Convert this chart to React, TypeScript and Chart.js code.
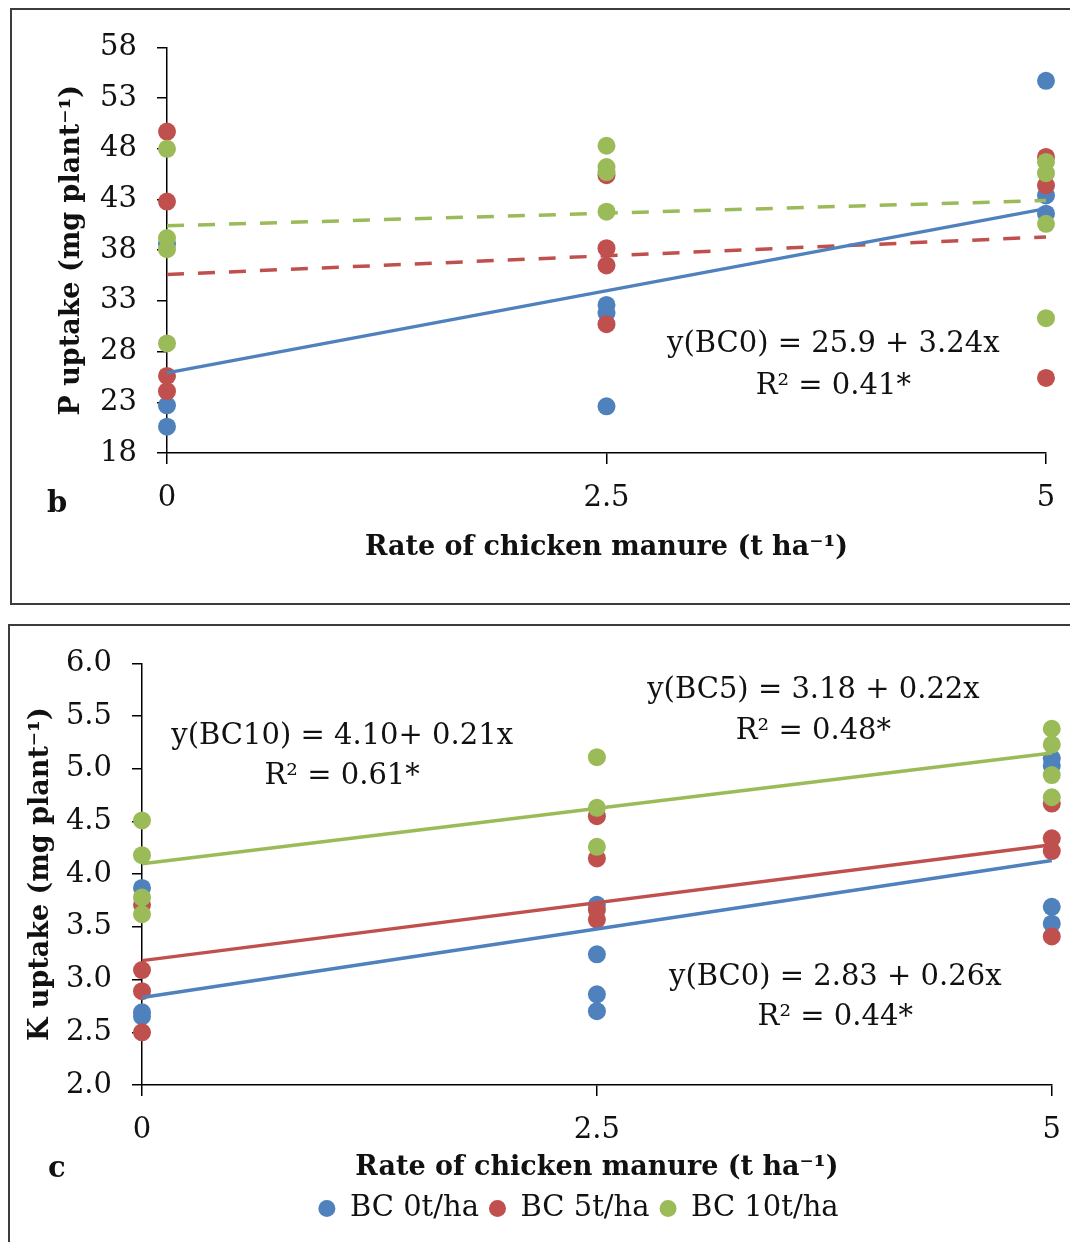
import { useEffect, useRef } from 'react';
import { Chart, registerables } from 'chart.js';

Chart.register(...registerables);

const FONT = "'DejaVu Serif', serif";
const TEXT = '#111111';
const BLUE = '#4F81BD';
const RED = '#C0504D';
const GREEN = '#9BBB59';

// ---------- shared categories ----------
const seriesNames = ['BC 0t/ha', 'BC 5t/ha', 'BC 10t/ha'];
const manureRates = [0, 2.5, 5];

// ---------- panel b: P uptake (values per rate 0, 2.5, 5) ----------
const pUptakeBC0 = [
  [20.6, 22.7, 38.6],
  [22.6, 31.8, 32.6],
  [41.6, 43.4, 54.7],
];
const pUptakeBC5 = [
  [24.1, 25.6, 42.8, 49.7],
  [30.7, 36.5, 38.2, 45.4],
  [25.4, 44.4, 47.2],
];
const pUptakeBC10 = [
  [28.8, 38.1, 39.2, 48.0],
  [41.8, 45.7, 46.2, 48.3],
  [31.3, 40.6, 45.6, 46.7],
];
// trend line values at rate 0 and rate 5
const pTrendBC0 = [25.9, 42.1];
const pTrendBC5 = [35.6, 39.3];
const pTrendBC10 = [40.4, 42.9];
const pTicks = { min: 18, max: 58, step: 5 };
const pNotes = [
  { text: 'y(BC0) = 25.9 + 3.24x', x: 3.79, y: 28.74 },
  { text: 'R² = 0.41*', x: 3.79, y: 24.6 },
];

// ---------- panel c: K uptake ----------
const kUptakeBC0 = [
  [2.65, 2.69, 3.87],
  [2.7, 2.86, 3.24, 3.71],
  [3.53, 3.69, 5.03, 5.1],
];
const kUptakeBC5 = [
  [2.5, 2.89, 3.09, 3.71],
  [3.57, 3.66, 4.15, 4.55],
  [3.41, 4.22, 4.34, 4.67],
];
const kUptakeBC10 = [
  [3.62, 3.78, 4.18, 4.51],
  [4.26, 4.63, 5.11],
  [4.73, 4.94, 5.23, 5.38],
];
const kTrendBC0 = [2.83, 4.13];
const kTrendBC5 = [3.18, 4.28];
const kTrendBC10 = [4.1, 5.15];
const kTicks = { min: 2, max: 6, step: 0.5 };
const kNotes = [
  { text: 'y(BC10) = 4.10+ 0.21x', x: 1.1, y: 5.31 },
  { text: 'R² = 0.61*', x: 1.1, y: 4.93 },
  { text: 'y(BC5) = 3.18 + 0.22x', x: 3.69, y: 5.74 },
  { text: 'R² = 0.48*', x: 3.69, y: 5.35 },
  { text: 'y(BC0) = 2.83 + 0.26x', x: 3.81, y: 3.02 },
  { text: 'R² = 0.44*', x: 3.81, y: 2.64 },
];

const xTitle = 'Rate of chicken manure (t ha⁻¹)';

type Note = { text: string; x: number; y: number };

function buildPoints(rows: number[][]) {
  const pts: { x: number; y: number }[] = [];
  rows.forEach((vals, i) => vals.forEach((v) => pts.push({ x: manureRates[i], y: v })));
  return pts;
}
function buildTrend(ends: number[]) {
  return [
    { x: manureRates[0], y: ends[0] },
    { x: manureRates[manureRates.length - 1], y: ends[1] },
  ];
}

type PanelProps = {
  width: number;
  height: number;
  series: number[][][];
  trends: number[][];
  dashed: boolean;
  ticks: { min: number; max: number; step: number };
  decimals: number;
  yTitle: string;
  notes: Note[];
  letter: string;
  letterPos: { x: number; y: number };
  padding: { left: number; right: number; top: number; bottom: number };
  yAxisWidth: number;
  yTitlePad: number;
  xAxisHeight: number;
  legend: boolean;
  legendShift: number;
};

function Panel(props: PanelProps) {
  const ref = useRef<HTMLCanvasElement | null>(null);
  useEffect(() => {
    if (!ref.current) return;
    const colors = [BLUE, RED, GREEN];
    const pointSets = props.series.map((rows, i) => ({
      label: seriesNames[i],
      data: buildPoints(rows),
      backgroundColor: colors[i],
      borderColor: colors[i],
      pointRadius: 9,
      pointBorderWidth: 0,
      pointStyle: 'circle',
      showLine: false,
      order: 3 - i,
      clip: false,
    }));
    const trendSets = props.trends.map((ends, i) => ({
      label: seriesNames[i] + ' trend',
      data: buildTrend(ends),
      borderColor: colors[i],
      backgroundColor: colors[i],
      borderWidth: 3.5,
      borderDash: props.dashed && i > 0 ? [17, 14] : [],
      pointRadius: 0,
      showLine: true,
      order: 0,
      clip: false,
    }));
    const notesPlugin = {
      id: 'notes',
      beforeDraw(chart: any) {
        // centre the legend row under the plot like the original figure
        const lg = chart.legend;
        if (lg && props.legend && !lg._shifted) {
          lg.left += props.legendShift;
          lg.right += props.legendShift;
          lg._shifted = true;
        }
      },
      afterDatasetsDraw(chart: any) {
        const { ctx } = chart;
        const xs = chart.scales.x;
        const ys = chart.scales.y;
        ctx.save();
        ctx.fillStyle = TEXT;
        ctx.font = `29px ${FONT}`;
        ctx.textAlign = 'center';
        ctx.textBaseline = 'middle';
        props.notes.forEach((n) => ctx.fillText(n.text, xs.getPixelForValue(n.x), ys.getPixelForValue(n.y)));
        ctx.font = `bold 29px ${FONT}`;
        ctx.textAlign = 'left';
        ctx.textBaseline = 'alphabetic';
        ctx.fillText(props.letter, props.letterPos.x, props.letterPos.y);
        ctx.restore();
      },
    };
    const gridOpts = (len: number) => ({
      drawOnChartArea: false,
      drawTicks: true,
      tickLength: len,
      color: '#000',
      lineWidth: 1.5,
    });
    const chart = new Chart(ref.current, {
      type: 'scatter',
      data: { datasets: [...pointSets, ...trendSets] as any },
      options: {
        animation: false,
        responsive: false,
        maintainAspectRatio: false,
        events: [],
        layout: { padding: props.padding },
        plugins: {
          legend: props.legend
            ? {
                display: true,
                position: 'bottom',
                labels: {
                  usePointStyle: true,
                  pointStyle: 'circle',
                  boxHeight: 12,
                  pointStyleWidth: 17,
                  padding: 10,
                  color: TEXT,
                  font: { family: FONT, size: 29 },
                  filter: (item: any) => item.datasetIndex < 3,
                  sort: (a: any, b: any) => a.datasetIndex - b.datasetIndex,
                },
              }
            : { display: false },
          tooltip: { enabled: false },
        },
        scales: {
          x: {
            type: 'linear',
            min: manureRates[0],
            max: manureRates[manureRates.length - 1],
            ticks: {
              stepSize: 2.5,
              padding: 17,
              color: TEXT,
              font: { family: FONT, size: 29 },
              callback: (v: any) => String(v),
            },
            grid: gridOpts(11),
            border: { display: true, color: '#000', width: 1.5 },
            title: {
              display: true,
              text: xTitle,
              color: TEXT,
              font: { family: FONT, size: 27, weight: 'bold' },
              padding: { top: 0, bottom: 0 },
            },
            afterFit: (s: any) => {
              s.height = props.xAxisHeight;
            },
          },
          y: {
            type: 'linear',
            min: props.ticks.min,
            max: props.ticks.max,
            ticks: {
              stepSize: props.ticks.step,
              padding: 20,
              color: TEXT,
              font: { family: FONT, size: 29 },
              callback: (v: any) => Number(v).toFixed(props.decimals),
            },
            grid: gridOpts(10),
            border: { display: true, color: '#000', width: 1.5 },
            title: {
              display: true,
              text: props.yTitle,
              color: TEXT,
              font: { family: FONT, size: 27, weight: 'bold' },
              padding: { top: props.yTitlePad, bottom: 0 },
            },
            afterFit: (s: any) => {
              s.width = props.yAxisWidth;
            },
          },
        },
      } as any,
      plugins: [notesPlugin],
    });
    return () => chart.destroy();
  }, []);
  return (
    <canvas
      ref={ref}
      width={props.width}
      height={props.height}
      style={{ display: 'block', width: props.width, height: props.height }}
    />
  );
}

export default function App() {
  return (
    <div style={{ position: 'relative', width: 1070, height: 1234, overflow: 'hidden', background: '#fff' }}>
      <div
        style={{
          position: 'absolute',
          left: 2,
          top: 0,
          width: 1100,
          height: 593,
          border: '2px solid #3c3c3c',
        }}
      >
        <Panel
          width={1066}
          height={593}
          series={[pUptakeBC0, pUptakeBC5, pUptakeBC10]}
          trends={[pTrendBC0, pTrendBC5, pTrendBC10]}
          dashed={true}
          ticks={pTicks}
          decimals={0}
          yTitle="P uptake (mg plant⁻¹)"
          notes={pNotes}
          letter="b"
          letterPos={{ x: 35, y: 502 }}
          padding={{ left: 0, right: 32, top: 37, bottom: 39 }}
          yAxisWidth={155}
          yTitlePad={44}
          xAxisHeight={111}
          legend={false}
          legendShift={0}
        />
      </div>
      <div
        style={{
          position: 'absolute',
          left: 0,
          top: 616,
          width: 1100,
          height: 700,
          border: '2px solid #3c3c3c',
        }}
      >
        <Panel
          width={1068}
          height={616}
          series={[kUptakeBC0, kUptakeBC5, kUptakeBC10]}
          trends={[kTrendBC0, kTrendBC5, kTrendBC10]}
          dashed={false}
          ticks={kTicks}
          decimals={1}
          yTitle="K uptake (mg plant⁻¹)"
          notes={kNotes}
          letter="c"
          letterPos={{ x: 38, y: 551 }}
          padding={{ left: 0, right: 25, top: 31, bottom: 9 }}
          yAxisWidth={132}
          yTitlePad={15}
          xAxisHeight={99}
          legend={true}
          legendShift={47}
        />
      </div>
    </div>
  );
}
